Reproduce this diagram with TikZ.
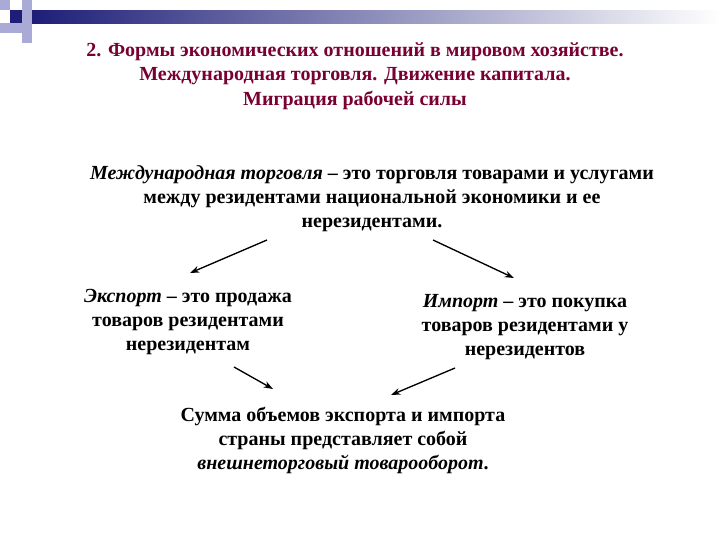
\documentclass[tikz,border=0pt]{standalone}
\usepackage{fontspec}
\setmainfont{Liberation Serif}
\usetikzlibrary{arrows.meta}
\definecolor{navy}{RGB}{30,30,120}
\definecolor{lav}{RGB}{170,170,215}
\definecolor{titlec}{RGB}{120,0,50}
\begin{document}
\begin{tikzpicture}[x=0.75pt,y=-0.75pt,
  txt/.style={font=\bfseries\fontsize{15}{18}\selectfont,align=center,inner sep=0pt},
  ttl/.style={font=\bfseries\fontsize{15}{18.4}\selectfont,align=center,inner sep=0pt,text=titlec},
  arr/.style={-{Stealth[length=7pt,width=5pt]},line width=1pt}]
\useasboundingbox (0,0) rectangle (720,540);
\shade[left color=navy,right color=white] (32,10) rectangle (720,23);
\fill[lav] (0,0) rectangle (10,10);
\fill[lav] (22,0) rectangle (32,10);
\fill[navy] (10,10) rectangle (22,23);
\fill[lav] (22,10) rectangle (32,23);
\fill[lav] (10,23) rectangle (22,33);
\fill[lav] (22,23) rectangle (32,33);
\fill[lav] (0,23) rectangle (10,33);
\fill[lav] (22,33) rectangle (32,43);
\node[ttl] (title) at (355,76) {2. Формы экономических отношений в мировом хозяйстве.\\Международная торговля. Движение капитала.\\Миграция рабочей силы};
\node[txt] (def) at (372,199) {\textit{Международная торговля} – это торговля товарами и услугами\\между резидентами национальной экономики и ее\\нерезидентами.};
\node[txt] (exp) at (188,322) {\textit{Экспорт} – это продажа\\товаров резидентами\\нерезидентам};
\node[txt] (imp) at (525,327) {\textit{Импорт} – это покупка\\товаров резидентами у\\нерезидентов};
\node[txt] (sum) at (343,440) {Сумма объемов экспорта и импорта\\страны представляет собой\\\textit{внешнеторговый товарооборот}.};
\coordinate (a1) at (267,240); \coordinate (b1) at (190,273);
\coordinate (a2) at (433,240); \coordinate (b2) at (514,278);
\coordinate (a3) at (234,367); \coordinate (b3) at (273,389);
\coordinate (a4) at (455,368); \coordinate (b4) at (391,395);
\draw[arr] (a1) -- (b1);
\draw[arr] (a2) -- (b2);
\draw[arr] (a3) -- (b3);
\draw[arr] (a4) -- (b4);
\end{tikzpicture}
\end{document}
